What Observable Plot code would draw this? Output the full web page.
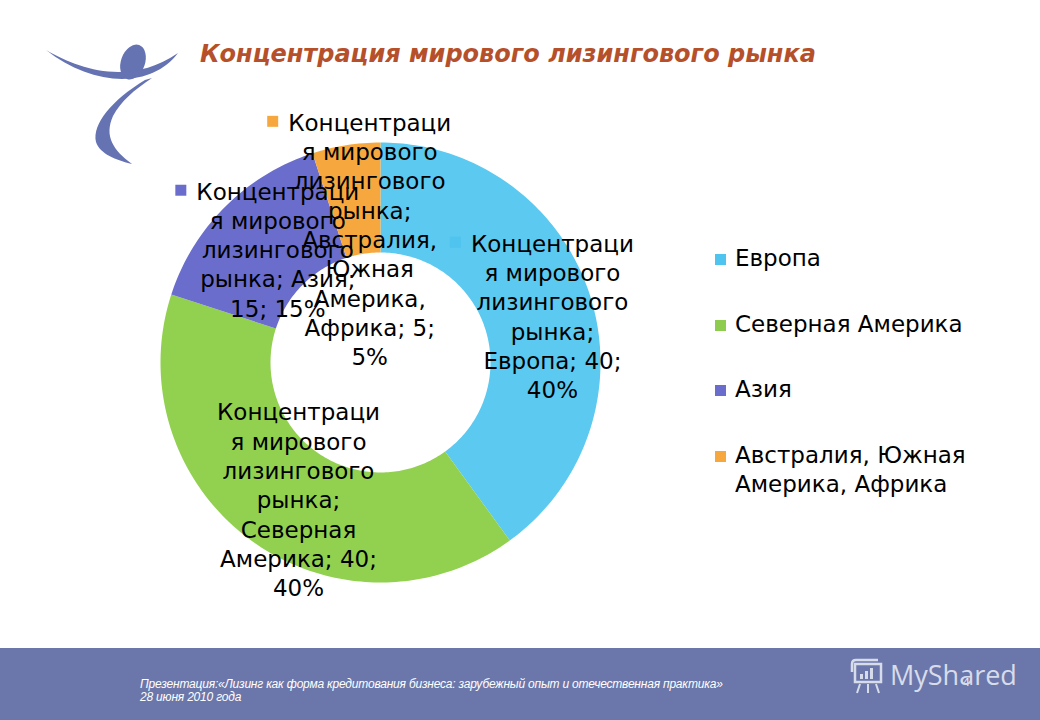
<!DOCTYPE html>
<html>
<head>
<meta charset="utf-8">
<script src="https://cdn.jsdelivr.net/npm/d3@7"></script>
<script src="https://cdn.jsdelivr.net/npm/@observablehq/plot@0.6"></script>
<style>
  html, body { margin: 0; padding: 0; background: #fff; }
  #page { position: relative; width: 1040px; height: 720px; overflow: hidden; background: #fff; font-family: "DejaVu Sans", Verdana, sans-serif; }
  #chart { position: absolute; left: 0; top: 0; }
  #title { position: absolute; left: 200px; top: 40px; font-size: 24px; line-height: 28px; font-weight: bold; font-style: italic; color: #b5502a; white-space: nowrap; }
  #logo { position: absolute; left: 0; top: 0; }
  .leg { position: absolute; left: 715px; font-size: 23px; line-height: 29.3px; color: #000; white-space: nowrap; }
  .leg .sw { position: absolute; left: 0; top: 10px; width: 11px; height: 11px; }
  .leg .tx { position: absolute; left: 20px; top: 0; }
  #footer { position: absolute; left: 0; top: 648px; width: 1040px; height: 72px; background: #6b77aa; }
  #foottext { position: absolute; left: 140px; top: 30px; color: #fff; font-family: "Liberation Sans Narrow", "Liberation Sans", sans-serif; font-style: italic; font-size: 12px; letter-spacing: -0.2px; line-height: 13px; white-space: nowrap; }
  #pagenum { position: absolute; left: 963px; top: 28px; color: #e8ebf3; font-size: 11px; }
  #brand { position: absolute; left: 890px; top: 10px; color: #d7dcea; font-family: "Open Sans", "DejaVu Sans", sans-serif; font-size: 27px; line-height: 34px; }
</style>
</head>
<body>
<div id="page">
  <svg id="logo" width="200" height="180">
    <ellipse cx="133" cy="62" rx="12" ry="18" transform="rotate(20 133 62)" fill="#6573b3"/>
    <path d="M46,50 C80,70 130,86 178,53 C150,90 92,86 46,50 Z" fill="#6573b3"/>
    <path d="M145,80 C112,100 92,124 96,142 C100,154 116,160 132,164 C113,150 104,136 113,116 C121,101 134,90 152,78 Z" fill="#6573b3"/>
  </svg>
  <div id="chart"></div>
  <div id="title"></div>
  <div id="legend"></div>
  <div id="footer">
    <div id="foottext"></div>
    <div id="pagenum">4</div>
    <svg style="position:absolute;left:848px;top:10px" width="40" height="40">
      <rect x="7" y="6" width="26" height="18" fill="none" stroke="#d7dcea" stroke-width="2.5"/>
      <path d="M4,6 L4,14 M4,6 Q4,2 8,2 L30,2" fill="none" stroke="#d7dcea" stroke-width="2.5"/>
      <rect x="12" y="16" width="3" height="5" fill="#d7dcea"/>
      <rect x="17" y="13" width="3" height="8" fill="#d7dcea"/>
      <rect x="22" y="10" width="3" height="11" fill="#d7dcea"/>
      <path d="M12,26 L9,35 M20,26 L20,35 M28,26 L31,35" stroke="#d7dcea" stroke-width="2"/>
    </svg>
    <div id="brand">MyShared</div>
  </div>
</div>
<script>
// ---- data ----
const titleText = "Концентрация мирового лизингового рынка";
const seriesName = "Концентрация мирового лизингового рынка";
const categories = ["Европа", "Северная Америка", "Азия", "Австралия, Южная Америка, Африка"];
const values = [40, 40, 15, 5];
const percents = ["40%", "40%", "15%", "5%"];
const labelLines = [
  ["Концентраци", "я мирового", "лизингового", "рынка;", "Европа; 40;", "40%"],
  ["Концентраци", "я мирового", "лизингового", "рынка;", "Северная", "Америка; 40;", "40%"],
  ["Концентраци", "я мирового", "лизингового", "рынка; Азия;", "15; 15%"],
  ["Концентраци", "я мирового", "лизингового", "рынка;", "Австралия,", "Южная", "Америка,", "Африка; 5;", "5%"]
];
const legendLines = [["Европа"], ["Северная Америка"], ["Азия"], ["Австралия, Южная", "Америка, Африка"]];
const footerLines = ["Презентация:«Лизинг как форма кредитования бизнеса: зарубежный опыт и отечественная практика»", "28 июня 2010 года"];

// ---- styles / layout ----
const colors = ["#5bc9f0", "#92d050", "#6a6dcc", "#f6a83e"];
const legendColors = ["#4fc4ee", "#8dcc4e", "#6a6dcc", "#f6a83e"];
const showMarker = [true, false, true, true];
const labelNudge = [[15, 4], [15, 3], [14, 3], [15, 39]];
const W = 1040, H = 648, cx = 380, cy = 362, R = 220, innerFrac = 0.5;
const fontSize = 23, lineHeight = 29.3 / 23;

// ---- geometry from data ----
const arcs = d3.pie().sort(null).startAngle(0).endAngle(2 * Math.PI)(values);
const slices = arcs.map((a, i) => {
  const n = Math.max(8, Math.ceil((a.endAngle - a.startAngle) / 0.02));
  const pts = [];
  for (let k = 0; k <= n; k++) {
    const t = a.startAngle + (a.endAngle - a.startAngle) * k / n;
    pts.push({x: Math.sin(t), y: Math.cos(t)});
  }
  for (let k = n; k >= 0; k--) {
    const t = a.startAngle + (a.endAngle - a.startAngle) * k / n;
    pts.push({x: innerFrac * Math.sin(t), y: innerFrac * Math.cos(t)});
  }
  const mid = (a.startAngle + a.endAngle) / 2, rm = (1 + innerFrac) / 2;
  return {pts, i, label: {x: rm * Math.sin(mid), y: rm * Math.cos(mid), text: labelLines[i].join("\n"), n: labelLines[i].length}};
});

const marks = [];
for (const s of slices) {
  marks.push(Plot.line(s.pts, {x: "x", y: "y", curve: "linear-closed", fill: colors[s.i], stroke: "none"}));
}
for (const s of slices) {
  const [ndx, ndy] = labelNudge[s.i];
  marks.push(Plot.text([s.label], {
    x: "x", y: "y", text: "text", dx: ndx, dy: ndy,
    fontSize, lineHeight, fontFamily: "DejaVu Sans", fill: "#000",
    textAnchor: "middle", lineAnchor: "middle"
  }));
  if (showMarker[s.i]) {
    marks.push(Plot.dot([s.label], {
      x: "x", y: "y", symbol: "square", r: 6.2, fill: legendColors[s.i], stroke: "none",
      dx: ndx - 97, dy: ndy - (s.label.n - 1) / 2 * fontSize * lineHeight
    }));
  }
}

const chart = Plot.plot({
  width: W, height: H,
  marginTop: 0, marginRight: 0, marginBottom: 0, marginLeft: 0,
  x: {domain: [-cx / R, (W - cx) / R], range: [0, W], axis: null},
  y: {domain: [-(H - cy) / R, cy / R], range: [H, 0], axis: null},
  style: {background: "transparent", overflow: "visible"},
  marks
});
document.getElementById("chart").appendChild(chart);

document.getElementById("title").textContent = titleText;

const legendTops = [244, 310, 375, 441];
const leg = document.getElementById("legend");
categories.forEach((c, i) => {
  const d = document.createElement("div");
  d.className = "leg";
  d.style.top = legendTops[i] + "px";
  d.innerHTML = `<div class="sw" style="background:${legendColors[i]}"></div><div class="tx">${legendLines[i].join("<br>")}</div>`;
  leg.appendChild(d);
});
document.getElementById("foottext").innerHTML = footerLines.join("<br>");
</script>
</body>
</html>
